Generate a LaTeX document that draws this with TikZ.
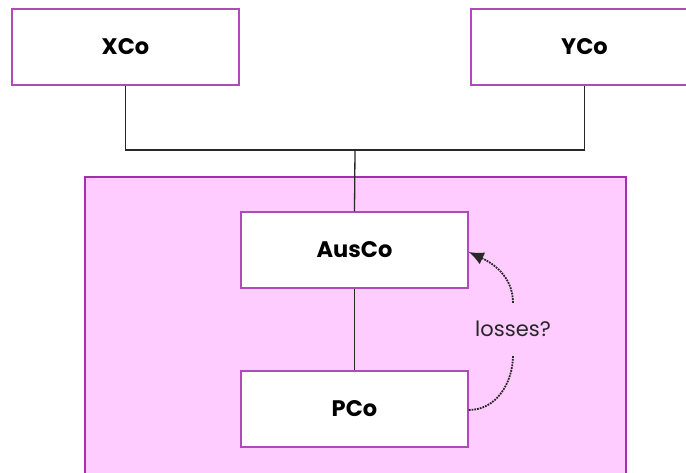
\documentclass[tikz,border=0pt]{standalone}
\usepackage{fontspec}
\setmainfont{Poppins}
\usetikzlibrary{arrows.meta}
\definecolor{boxborder}{RGB}{175,75,185}
\definecolor{pinkfill}{RGB}{255,204,255}
\definecolor{pinkborder}{RGB}{165,45,175}
\definecolor{linecol}{RGB}{40,40,40}
\tikzset{
  cobox/.style={draw=boxborder, line width=1.5pt, fill=white, minimum width=227pt, minimum height=76pt, inner sep=0pt, font=\fontsize{22.5}{26}\selectfont\bfseries},
  link/.style={draw=linecol, line width=1.3pt},
  lossarrow/.style={draw=linecol, line width=1.8pt, densely dotted},
}
\begin{document}
\begin{tikzpicture}[x=1pt,y=-1pt]
\useasboundingbox (0,0) rectangle (686,473);
\clip (0,0) rectangle (686,473);
\fill[white] (0,0) rectangle (686,473);
\node[draw=pinkborder, line width=2pt, fill=pinkfill, minimum width=541pt, minimum height=320pt, anchor=north west, inner sep=0pt] (group) at (83.5,176.5) {};
\node[cobox] (XCo) at (125.5,47) {XCo};
\node[cobox] (YCo) at (584.5,47) {YCo};
\node[cobox] (AusCo) at (354.5,250) {AusCo};
\node[cobox] (PCo) at (354.5,409) {PCo};
\coordinate (J) at (355,150);
\draw[link] (XCo.south) |- (J) -| (YCo.south);
\draw[link] (J) -- (AusCo.north);
\draw[link] (AusCo) -- (PCo);
\node[font=\fontsize{21}{24}\selectfont, inner sep=0pt, minimum height=52pt, text=black!85] (loss) at (513,329) {losses?};
\draw[lossarrow] (PCo.east |- 0,410) to[out=0,in=-90] (loss.south);
\draw[lossarrow, -{Latex[length=15pt,width=13pt]}] (loss.north) to[out=90,in=-25] (AusCo.east |- 0,252);
\end{tikzpicture}
\end{document}
